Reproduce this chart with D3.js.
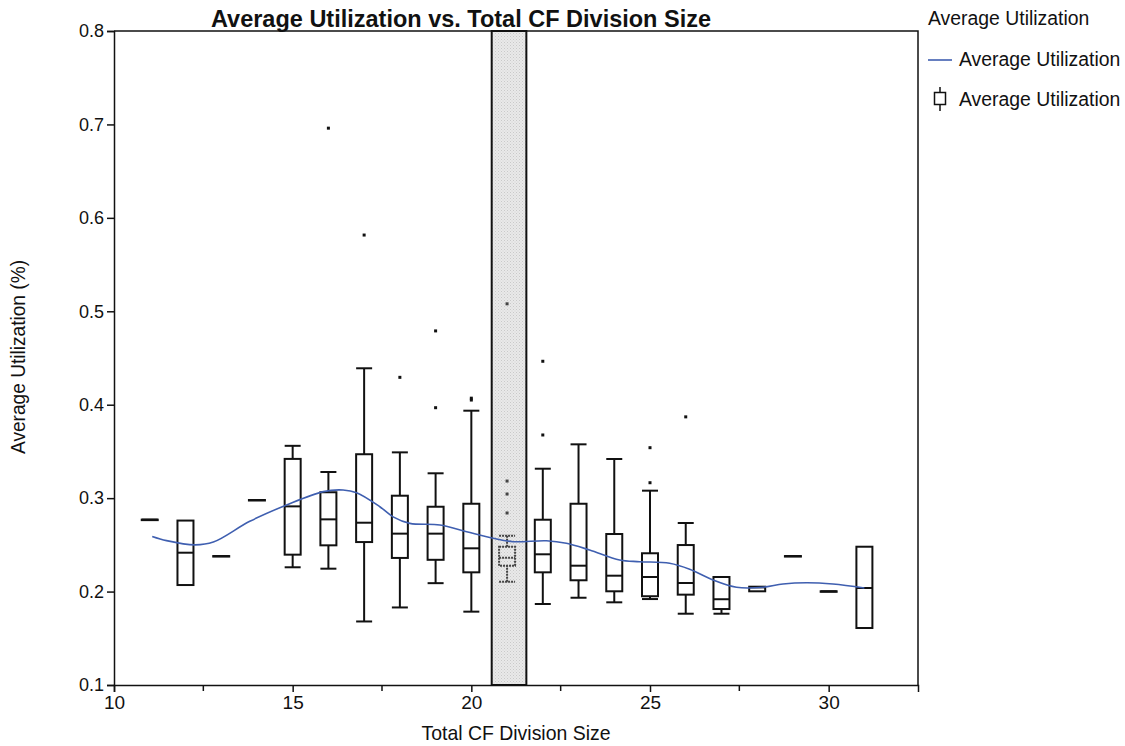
<!DOCTYPE html>
<html>
<head>
<meta charset="utf-8">
<script src="https://cdn.jsdelivr.net/npm/d3@7"></script>
<style>
  html, body { margin: 0; padding: 0; background: #fff; }
  svg { display: block; }
</style>
</head>
<body>
<svg id="chart" width="1125" height="746"></svg>
<script>
// Division sizes (x categories) and their box-plot summaries
const sizes      = [11, 12, 13, 14, 15, 16, 17, 18, 19, 20, 21, 22, 23, 24, 25, 26, 27, 28, 29, 30, 31];
const whiskerLow = [0.277, 0.207, 0.238, 0.298, 0.226, 0.2245, 0.168, 0.183, 0.209, 0.1785, 0.2106, 0.1867, 0.1934, 0.1885, 0.192, 0.1763, 0.1763, 0.2003, 0.238, 0.2003, 0.161];
const q1         = [0.277, 0.207, 0.238, 0.298, 0.2395, 0.2495, 0.253, 0.236, 0.234, 0.2206, 0.2277, 0.2206, 0.2121, 0.2003, 0.195, 0.1967, 0.1813, 0.2003, 0.238, 0.2003, 0.161];
const median     = [0.277, 0.2416, 0.238, 0.298, 0.2912, 0.2773, 0.2737, 0.262, 0.262, 0.2463, 0.2362, 0.2399, 0.2277, 0.217, 0.2156, 0.2092, 0.1918, 0.2045, 0.238, 0.2003, 0.2038];
const q3         = [0.277, 0.276, 0.238, 0.298, 0.342, 0.3063, 0.347, 0.3026, 0.2908, 0.294, 0.248, 0.2769, 0.294, 0.2616, 0.241, 0.2498, 0.2156, 0.2052, 0.238, 0.2003, 0.248];
const whiskerHigh= [0.277, 0.276, 0.238, 0.298, 0.356, 0.328, 0.439, 0.349, 0.3266, 0.3936, 0.2598, 0.3315, 0.3576, 0.3419, 0.308, 0.2734, 0.2156, 0.2052, 0.238, 0.2003, 0.248];

// Outlying observations
const outlierSize  = [16, 17, 18, 19, 19, 20, 20, 21, 21, 21, 21, 22, 22, 25, 25, 26];
const outlierValue = [0.696, 0.5816, 0.4293, 0.479, 0.3968, 0.405, 0.407, 0.508, 0.3183, 0.3044, 0.2841, 0.4465, 0.3676, 0.354, 0.3165, 0.387];

// Smoothed average utilization curve
const smoothX = [11.07, 11.47, 12.27, 12.78, 13.8, 14.83, 15.86, 16.41, 16.79, 17.44, 17.81, 18.28, 19.12, 19.87, 20.61, 21.17, 22.1, 22.66, 23.31, 24.15, 24.71, 25.55, 26.11, 26.76, 27.42, 28.16, 28.72, 29.38, 30.12, 31.0];
const smoothY = [0.259, 0.2545, 0.250, 0.253, 0.2752, 0.2927, 0.307, 0.3087, 0.3058, 0.2908, 0.280, 0.273, 0.2713, 0.264, 0.257, 0.2534, 0.2544, 0.2517, 0.2445, 0.2338, 0.232, 0.2303, 0.2239, 0.2124, 0.2046, 0.2046, 0.2081, 0.2095, 0.2081, 0.2038];

// Highlighted division size
const highlightSize = 21;

const xTicksMajor = [10, 15, 20, 25, 30];
const xTicksMinor = [12.5, 17.5, 22.5, 27.5];
const yTicks = [0.1, 0.2, 0.3, 0.4, 0.5, 0.6, 0.7, 0.8];

const svg = d3.select("#chart");
const plotLeft = 114, plotRight = 918, plotTop = 31, plotBottom = 685;

const x = d3.scaleLinear().domain([10, 32.5]).range([plotLeft, plotRight]);
const y = d3.scaleLinear().domain([0.1, 0.8]).range([plotBottom, plotTop]);

const narrow = "'Liberation Sans Narrow', 'Arial Narrow', 'Liberation Sans', Arial, sans-serif";
const regular = "'Liberation Sans', Arial, sans-serif";

// stipple pattern for the highlighted band
const defs = svg.append("defs");
const pat = defs.append("pattern").attr("id", "stipple").attr("patternUnits", "userSpaceOnUse")
  .attr("width", 3).attr("height", 3);
pat.append("rect").attr("width", 3).attr("height", 3).attr("fill", "#e9e9e9");
pat.append("rect").attr("x", 0).attr("y", 0).attr("width", 1).attr("height", 1).attr("fill", "#c9c9c9");
pat.append("rect").attr("x", 1.5).attr("y", 1.5).attr("width", 1).attr("height", 1).attr("fill", "#d2d2d2");

// highlight band
svg.append("rect")
  .attr("x", x(highlightSize - 0.43))
  .attr("y", plotTop)
  .attr("width", x(highlightSize + 0.54) - x(highlightSize - 0.43))
  .attr("height", plotBottom - plotTop)
  .attr("fill", "url(#stipple)")
  .attr("stroke", "#111")
  .attr("stroke-width", 2);

// frame (top and right)
svg.append("path")
  .attr("d", `M${plotLeft},${plotTop}H${plotRight}V${plotBottom}`)
  .attr("fill", "none").attr("stroke", "#111").attr("stroke-width", 1.5);

// y axis
const yAxis = svg.append("g").attr("transform", `translate(${plotLeft},0)`)
  .call(d3.axisLeft(y).tickValues(yTicks).tickFormat(d3.format(".1f")).tickSize(7).tickPadding(3));
yAxis.select(".domain").attr("stroke", "#111").attr("stroke-width", 1.5);
yAxis.selectAll(".tick line").attr("stroke", "#111").attr("stroke-width", 1.5);
yAxis.selectAll(".tick text").attr("font-family", regular).attr("font-size", 18).attr("fill", "#111");

// x axis
const xAxis = svg.append("g").attr("transform", `translate(0,${plotBottom})`)
  .call(d3.axisBottom(x).tickValues(xTicksMajor).tickFormat(d3.format("d")).tickSize(7).tickPadding(4));
xAxis.select(".domain").attr("stroke", "#111").attr("stroke-width", 1.5);
xAxis.selectAll(".tick line").attr("stroke", "#111").attr("stroke-width", 1.5);
xAxis.selectAll(".tick text").attr("font-family", narrow).attr("font-size", 19).attr("fill", "#111");
svg.append("g").selectAll("line").data(xTicksMinor).join("line")
  .attr("x1", d => x(d)).attr("x2", d => x(d))
  .attr("y1", plotBottom).attr("y2", plotBottom + 6)
  .attr("stroke", "#111").attr("stroke-width", 1.5);

// box plots
const boxW = 16;
const boxes = sizes.map((s, i) => ({
  s, lo: whiskerLow[i], q1: q1[i], med: median[i], q3: q3[i], hi: whiskerHigh[i]
}));
const g = svg.append("g");
boxes.forEach(b => {
  const cx = x(b.s);
  const hl = b.s === highlightSize;
  const stroke = hl ? "#444" : "#111";
  const dash = hl ? "2,1" : null;
  const grp = g.append("g");
  const seg = (x1, y1, x2, y2) => grp.append("line")
    .attr("x1", x1).attr("y1", y1).attr("x2", x2).attr("y2", y2)
    .attr("stroke", stroke).attr("stroke-width", 2).attr("stroke-dasharray", dash);
  if (b.hi > b.q3) {
    seg(cx, y(b.hi), cx, y(b.q3));
    seg(cx - boxW / 2, y(b.hi), cx + boxW / 2, y(b.hi));
  }
  if (b.lo < b.q1) {
    seg(cx, y(b.lo), cx, y(b.q1));
    seg(cx - boxW / 2, y(b.lo), cx + boxW / 2, y(b.lo));
  }
  grp.append("rect")
    .attr("x", cx - boxW / 2).attr("y", y(b.q3))
    .attr("width", boxW).attr("height", Math.max(y(b.q1) - y(b.q3), 0.5))
    .attr("fill", "none").attr("stroke", stroke).attr("stroke-width", 2)
    .attr("stroke-dasharray", dash);
  seg(cx - boxW / 2, y(b.med), cx + boxW / 2, y(b.med));
});

// outliers
svg.append("g").selectAll("rect")
  .data(outlierSize.map((s, i) => ({ s, v: outlierValue[i] })))
  .join("rect")
  .attr("x", d => x(d.s) - 1.5).attr("y", d => y(d.v) - 1.5)
  .attr("width", 3).attr("height", 3)
  .attr("fill", d => d.s === highlightSize ? "#444" : "#111");

// smoothed line
const line = d3.line().x(d => x(d[0])).y(d => y(d[1])).curve(d3.curveCatmullRom.alpha(0.5));
svg.append("path")
  .datum(smoothX.map((v, i) => [v, smoothY[i]]))
  .attr("d", line)
  .attr("fill", "none").attr("stroke", "#3f5fb0").attr("stroke-width", 1.6);

// title and axis titles
svg.append("text").attr("x", 461).attr("y", 27).attr("text-anchor", "middle")
  .attr("font-family", narrow).attr("font-weight", "bold").attr("font-size", 24).attr("fill", "#111")
  .attr("textLength", 500).attr("lengthAdjust", "spacingAndGlyphs")
  .text("Average Utilization vs. Total CF Division Size");
svg.append("text").attr("x", 516).attr("y", 740).attr("text-anchor", "middle")
  .attr("font-family", narrow).attr("font-size", 21).attr("fill", "#111")
  .attr("textLength", 189).attr("lengthAdjust", "spacingAndGlyphs")
  .text("Total CF Division Size");
svg.append("text").attr("transform", "translate(25,357) rotate(-90)").attr("text-anchor", "middle")
  .attr("font-family", narrow).attr("font-size", 20).attr("fill", "#111")
  .attr("textLength", 194).attr("lengthAdjust", "spacingAndGlyphs")
  .text("Average Utilization (%)");

// legend
const lg = svg.append("g").attr("font-family", regular).attr("font-size", 19.4).attr("fill", "#111");
lg.append("text").attr("x", 928).attr("y", 25).text("Average Utilization");
lg.append("line").attr("x1", 928).attr("x2", 952).attr("y1", 60).attr("y2", 60)
  .attr("stroke", "#3f5fb0").attr("stroke-width", 1.6);
lg.append("text").attr("x", 959).attr("y", 66).text("Average Utilization");
lg.append("line").attr("x1", 940).attr("x2", 940).attr("y1", 87).attr("y2", 111)
  .attr("stroke", "#111").attr("stroke-width", 1.5);
lg.append("rect").attr("x", 934.5).attr("y", 92.5).attr("width", 11).attr("height", 12)
  .attr("fill", "#fff").attr("stroke", "#111").attr("stroke-width", 1.5);
lg.append("text").attr("x", 959).attr("y", 106).text("Average Utilization");
</script>
</body>
</html>
